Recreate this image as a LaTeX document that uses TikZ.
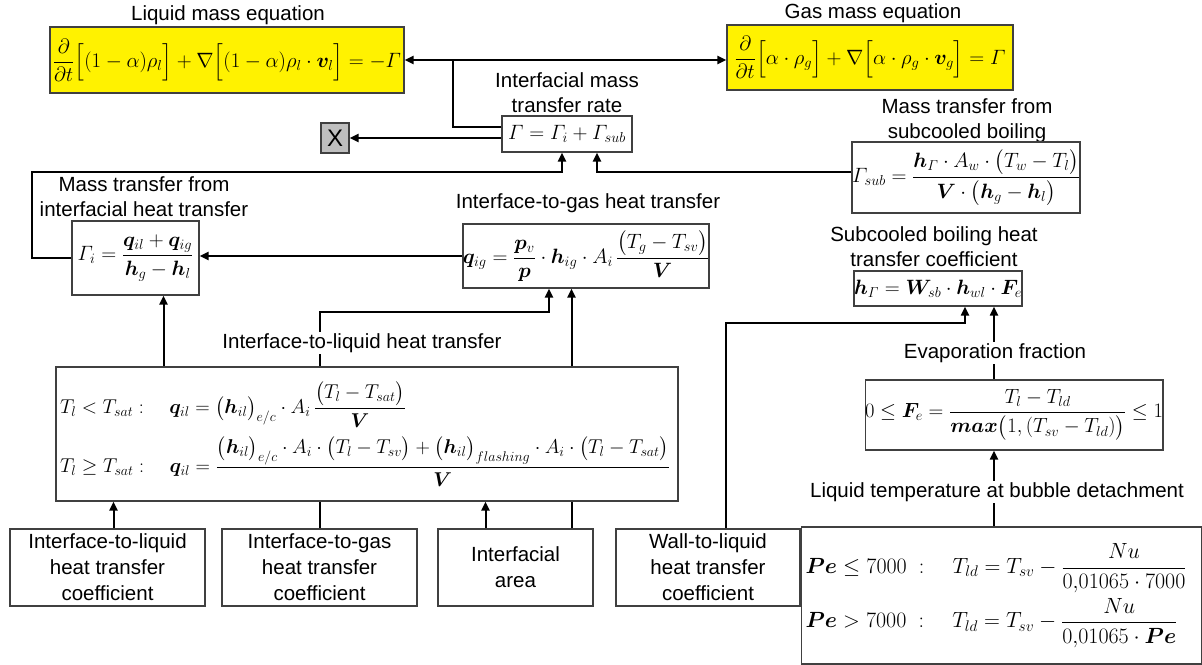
\RequirePackage{fix-cm}
\documentclass[tikz,border=0pt]{standalone}
\usepackage{amsmath}
\usepackage{amssymb}
\usepackage{bm}
\usepackage[no-math]{fontspec}
\setsansfont{Liberation Sans}
\usetikzlibrary{arrows.meta}

\begin{document}
\begin{tikzpicture}[x=1pt,y=-1pt,
  box/.style={draw=black!75,line width=1.2pt,fill=white,inner sep=0pt,font=\fontsize{20.74}{25}\selectfont},
  ybox/.style={box,fill=yellow},
  txtbox/.style={box,align=center,font=\sffamily\fontsize{20.5}{26}\selectfont},
  lbl/.style={align=center,inner sep=1pt,font=\sffamily\fontsize{20.5}{25}\selectfont},
  gap/.style={lbl,fill=white},
  con/.style={line width=2pt},
  arr/.style={con,-{Triangle[length=9pt,width=8pt]}}]

\useasboundingbox (0,0) rectangle (1202,664);

\node[lbl] (l1) at (228,15) {Liquid mass equation};
\node[lbl] (l2) at (873,13) {Gas mass equation};
\node[lbl] (l3) at (567,93) {Interfacial mass\\transfer rate};
\node[lbl] (l4) at (967,121) {Mass transfer from\\subcooled boiling};
\node[lbl] (l5) at (144,197) {Mass transfer from\\interfacial heat transfer};
\node[lbl] (l6) at (588,203) {Interface-to-gas heat transfer};
\node[lbl] (l7) at (934,247) {Subcooled boiling heat\\transfer coefficient};

\node[ybox,minimum width=354,minimum height=66] (liq) at (227,60)
  {$\dfrac{\partial}{\partial t}\Bigl[(1-\alpha)\rho_l\Bigr]+\nabla\Bigl[(1-\alpha)\rho_l\cdot\bm{v}_l\Bigr]=-\varGamma$};
\node[ybox,minimum width=286,minimum height=65] (gas) at (870,57.5)
  {$\dfrac{\partial}{\partial t}\Bigl[\alpha\cdot\rho_g\Bigr]+\nabla\Bigl[\alpha\cdot\rho_g\cdot\bm{v}_g\Bigr]=\varGamma$};
\node[box,minimum width=130,minimum height=36] (gam) at (567,134)
  {$\varGamma=\varGamma_i+\varGamma_{sub}$};
\node[box,fill=black!25,minimum width=28,minimum height=30,font=\sffamily\fontsize{24}{26}\selectfont] (xx) at (335,138) {X};
\node[box,minimum width=224,minimum height=71] (gsub) at (966,177.5)
  {$\varGamma_{sub}=\dfrac{\bm{h}_\varGamma\cdot A_w\cdot\bigl(T_w-T_l\bigr)}{\bm{V}\cdot\bigl(\bm{h}_g-\bm{h}_l\bigr)}$};
\node[box,minimum width=127,minimum height=74] (gi) at (135.5,258)
  {$\varGamma_i=\dfrac{\bm{q}_{il}+\bm{q}_{ig}}{\bm{h}_g-\bm{h}_l}$};
\node[box,minimum width=218,minimum height=64] (qig) at (586,256)
  {$\bm{q}_{ig}=\dfrac{\bm{p}_v}{\bm{p}}\cdot\bm{h}_{ig}\cdot A_i\,\dfrac{\bigl(T_g-T_{sv}\bigr)}{\bm{V}}$};
\node[box,minimum width=160,minimum height=35] (hg) at (938,288.5)
  {$\bm{h}_\varGamma=\bm{W}_{sb}\cdot\bm{h}_{wl}\cdot\bm{F}_e$};
\node[box,minimum width=282,minimum height=70,font=\fontsize{20.5}{24}\selectfont] (fe) at (1014,415)
  {$0\le\bm{F}_e=\dfrac{T_l-T_{ld}}{\bm{max}\bigl(1,(T_{sv}-T_{ld})\bigr)}\le1$};
\node[box,minimum height=134,inner xsep=4pt,text width=614,align=left,font=\fontsize{20}{24}\selectfont] (qil) at (367,434)
  {$T_l<T_{sat}:\quad\bm{q}_{il}=\bigl(\bm{h}_{il}\bigr)_{e/c}\cdot A_i\,\dfrac{\bigl(T_l-T_{sat}\bigr)}{\bm{V}}$\\[8pt]
   $T_l\ge T_{sat}:\quad\bm{q}_{il}=\dfrac{\bigl(\bm{h}_{il}\bigr)_{e/c}\cdot A_i\cdot\bigl(T_l-T_{sv}\bigr)+\bigl(\bm{h}_{il}\bigr)_{flashing}\cdot A_i\cdot\bigl(T_l-T_{sat}\bigr)}{\bm{V}}$};
\node[box,minimum height=137,inner xsep=4pt,text width=392,align=left,font=\fontsize{22}{26}\selectfont] (tld) at (1001.5,595.5)
  {$\bm{Pe}\le7000\;:\quad T_{ld}=T_{sv}-\dfrac{Nu}{0{,}01065\cdot7000}$\\[4pt]
   $\bm{Pe}>7000\;:\quad T_{ld}=T_{sv}-\dfrac{Nu}{0{,}01065\cdot\bm{Pe}}$};

\node[txtbox,minimum width=195,minimum height=77] (b1) at (107.5,567.5) {Interface-to-liquid\\heat transfer\\coefficient};
\node[txtbox,minimum width=195,minimum height=77] (b2) at (319.5,567.5) {Interface-to-gas\\heat transfer\\coefficient};
\node[txtbox,minimum width=155,minimum height=77] (b3) at (515.5,567.5) {Interfacial\\area};
\node[txtbox,minimum width=184,minimum height=77] (b4) at (708,567.5) {Wall-to-liquid\\heat transfer\\coefficient};

\draw[con] ([yshift=7pt]gam.west) -| (453,60);
\draw[con,{Triangle[length=9pt,width=8pt]}-{Triangle[length=9pt,width=8pt]}] (liq.east) -- (liq.east -| gas.west);
\draw[arr] (xx.east -| gam.west) -- (xx.east);
\draw[arr] (gi.west) -| (32,172) -| ([xshift=-5pt]gam.south);
\draw[arr] (gsub.west |- 0,172) -| ([xshift=30pt]gam.south);
\draw[arr] (qig.west) -- (qig.west -| gi.east);
\draw[arr] ([xshift=28pt]gi.south |- qil.north) -- ([xshift=28pt]gi.south);
\draw[con] (b2.north) -- (b2.north |- qil.south);
\draw[arr] (b2.north |- qil.north) |- (549,312) -- ([xshift=-37pt]qig.south);
\draw[arr] ([xshift=6pt]b1.north) -- ([xshift=6pt]b1.north |- qil.south);
\draw[arr] ([xshift=-30pt]b3.north) -- ([xshift=-30pt]b3.north |- qil.south);
\draw[con] ([xshift=56pt]b3.north) -- ([xshift=56pt]b3.north |- qil.south);
\draw[arr] ([xshift=56pt]b3.north |- qil.north) -- ([xshift=56pt]b3.north |- qig.south);
\draw[arr] ([xshift=18pt]b4.north) |- (965,323) -- ([xshift=27pt]hg.south);
\draw[arr] ([xshift=-20pt]fe.north) -- ([xshift=-20pt]fe.north |- hg.south);
\draw[arr] ([xshift=-7.5pt]tld.north) -- ([xshift=-7.5pt]tld.north |- fe.south);

\node[gap] (l8) at (362,343) {Interface-to-liquid heat transfer};
\node[gap] (l9) at (995,353) {Evaporation fraction};
\node[gap] (l10) at (997,492) {Liquid temperature at bubble detachment};
\end{tikzpicture}
\end{document}
